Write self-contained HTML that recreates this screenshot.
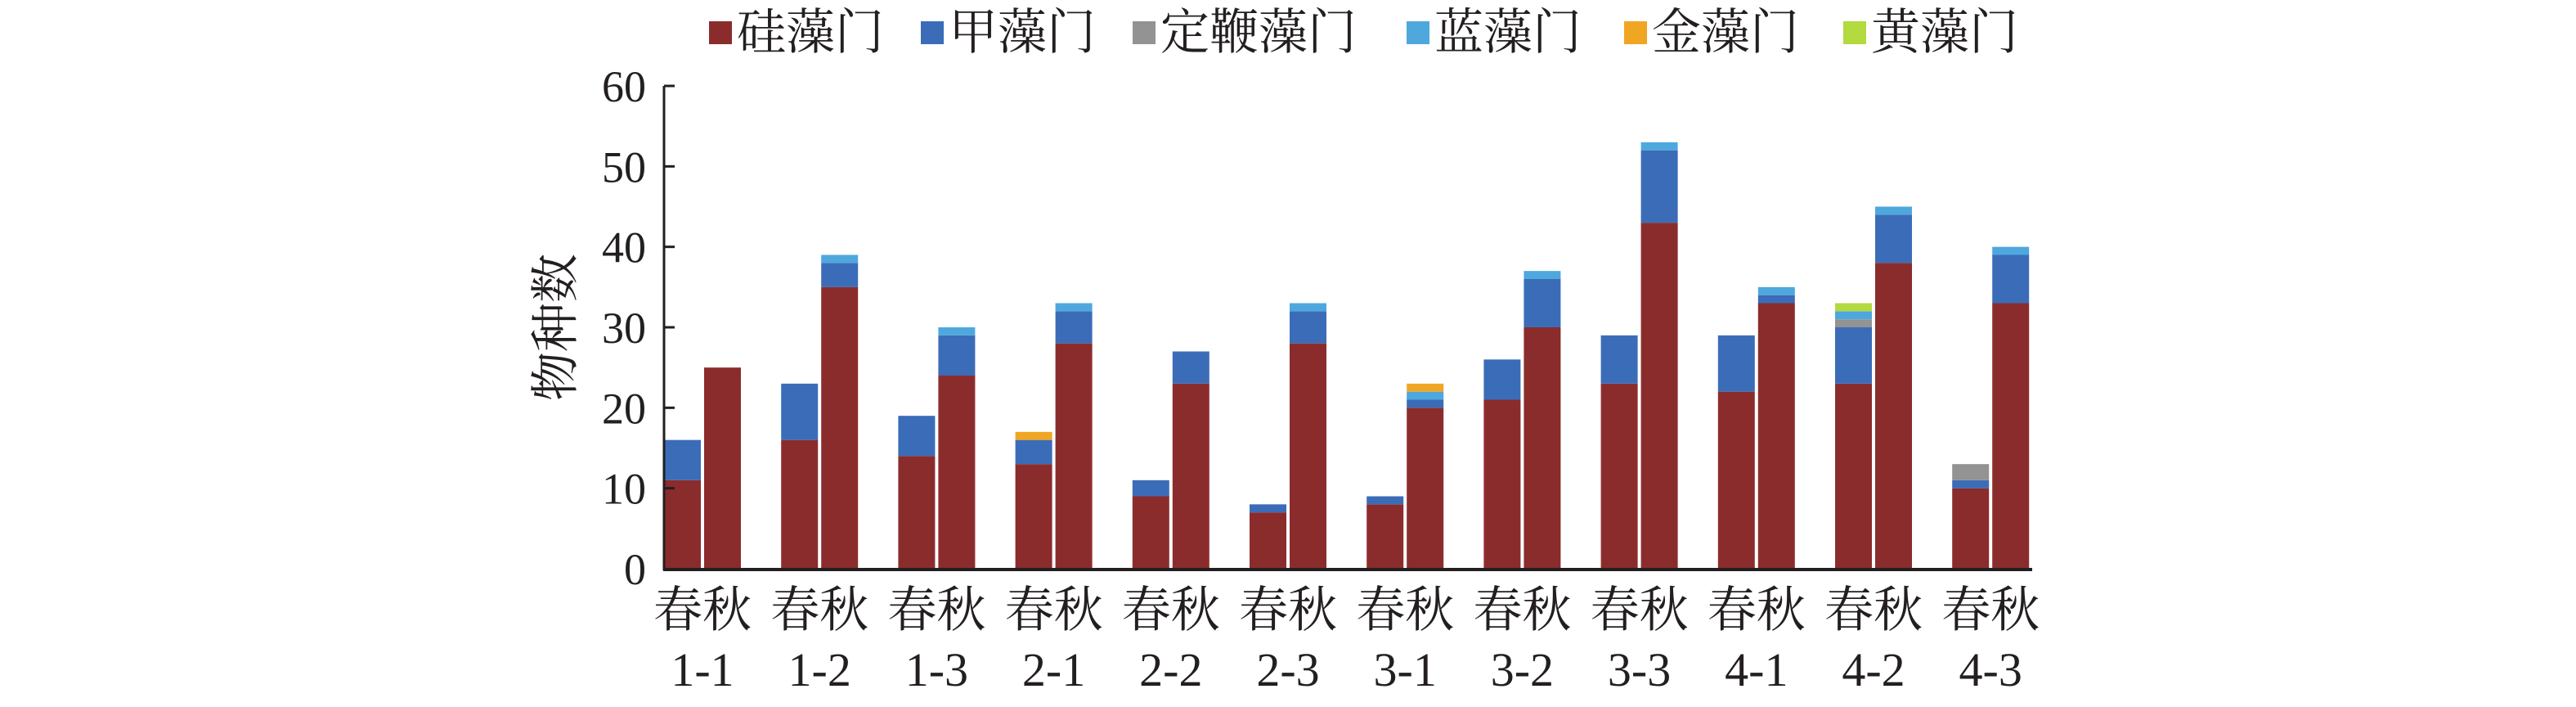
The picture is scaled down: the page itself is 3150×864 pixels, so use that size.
<!DOCTYPE html>
<html><head><meta charset="utf-8"><style>
html,body{margin:0;padding:0;background:#fff;}
svg{display:block;font-family:"Liberation Serif","Noto Serif CJK SC",serif;}
</style></head><body>
<svg id="chart" width="3150" height="864" viewBox="0 0 3150 864" xmlns="http://www.w3.org/2000/svg">
<g id="legend"></g>
<g id="bars"></g>
<g id="axes"></g>
<text transform="translate(700,400) rotate(-90)" text-anchor="middle" font-size="60" fill="#231f20">物种数</text>
</svg>
<script>
const categories = ["1-1","1-2","1-3","2-1","2-2","2-3","3-1","3-2","3-3","4-1","4-2","4-3"];
const seriesNames = ["硅藻门","甲藻门","定鞭藻门","蓝藻门","金藻门","黄藻门"];
const seriesColors = ["#8b2c2c","#3b6cb8","#939393","#4ea8de","#f0a623","#b3da3e"];
// spring values per series
const springDiatom = [11,16,14,13,9,7,8,21,23,22,23,10];
const springDino   = [5,7,5,3,2,1,1,5,6,7,7,1];
const springHapto  = [0,0,0,0,0,0,0,0,0,0,1,2];
const springCyano  = [0,0,0,0,0,0,0,0,0,0,1,0];
const springChryso = [0,0,0,1,0,0,0,0,0,0,0,0];
const springXantho = [0,0,0,0,0,0,0,0,0,0,1,0];
// autumn values per series
const autumnDiatom = [25,35,24,28,23,28,20,30,43,33,38,33];
const autumnDino   = [0,3,5,4,4,4,1,6,9,1,6,6];
const autumnHapto  = [0,0,0,0,0,0,0,0,0,0,0,0];
const autumnCyano  = [0,1,1,1,0,1,1,1,1,1,1,1];
const autumnChryso = [0,0,0,0,0,0,1,0,0,0,0,0];
const autumnXantho = [0,0,0,0,0,0,0,0,0,0,0,0];
const yTicks = [0,10,20,30,40,50,60];
const seasonLabel = "春秋";

const NS="http://www.w3.org/2000/svg";
const x0=812, pitch=143.2, barW=45, gap=4, yBase=695, yTop=105, yMax=60;
const yScale=v=>yBase-(v/yMax)*(yBase-yTop);
const xBar=(i,s)=>x0+i*pitch+s*(barW+gap);
function mk(tag,attrs,parent){const e=document.createElementNS(NS,tag);for(const k in attrs)e.setAttribute(k,attrs[k]);parent.appendChild(e);return e;}
const spring=[springDiatom,springDino,springHapto,springCyano,springChryso,springXantho];
const autumn=[autumnDiatom,autumnDino,autumnHapto,autumnCyano,autumnChryso,autumnXantho];
const bars=document.getElementById('bars');
[spring,autumn].forEach((season,s)=>{
  categories.forEach((c,i)=>{
    let cum=0;
    season.forEach((arr,k)=>{
      const v=arr[i]; if(!v) return;
      const r=mk('rect',{x:xBar(i,s),y:yScale(cum+v),width:barW,height:yScale(cum)-yScale(cum+v),fill:seriesColors[k]},bars);
      
      
      cum+=v;
    });
  });
});
const axes=document.getElementById('axes');
const yl=mk('line',{x1:x0,y1:yTop,x2:x0,y2:yBase+2,stroke:"#231f20","stroke-width":3},axes);


const xl=mk('line',{x1:x0-1,y1:yBase+1,x2:2485,y2:yBase+1,stroke:"#231f20","stroke-width":4},axes);


yTicks.forEach(t=>{
  const y=yScale(t);
  if(t>0){const tk=mk('line',{x1:x0,y1:y,x2:x0+13,y2:y,stroke:"#231f20","stroke-width":3},axes);
  
  }
  const tx=mk('text',{x:790,y:y+19,"text-anchor":"end","font-size":54,fill:"#231f20"},axes);
  tx.textContent=t;
  
  
});
categories.forEach((c,i)=>{
  const cx=x0+i*pitch+(2*barW+gap)/2;
  const t1=mk('text',{x:cx,y:766,"text-anchor":"middle","font-size":60,fill:"#231f20"},axes);
  t1.textContent=seasonLabel;
  
  
  const t2=mk('text',{x:cx,y:838,"text-anchor":"middle","font-size":58,fill:"#231f20"},axes);
  t2.textContent=c;
  
  
});
const legend=document.getElementById('legend');
const legX=[867,1126,1385,1720,1986,2254];
seriesNames.forEach((n,k)=>{
  const g=mk('g',{},legend);
  
  
  mk('rect',{x:legX[k],y:26,width:28,height:28,fill:seriesColors[k]},g);
  const t=mk('text',{x:legX[k]+34,y:60,"font-size":60,fill:"#231f20"},g);
  t.textContent=n;
});
</script>
</body></html>
